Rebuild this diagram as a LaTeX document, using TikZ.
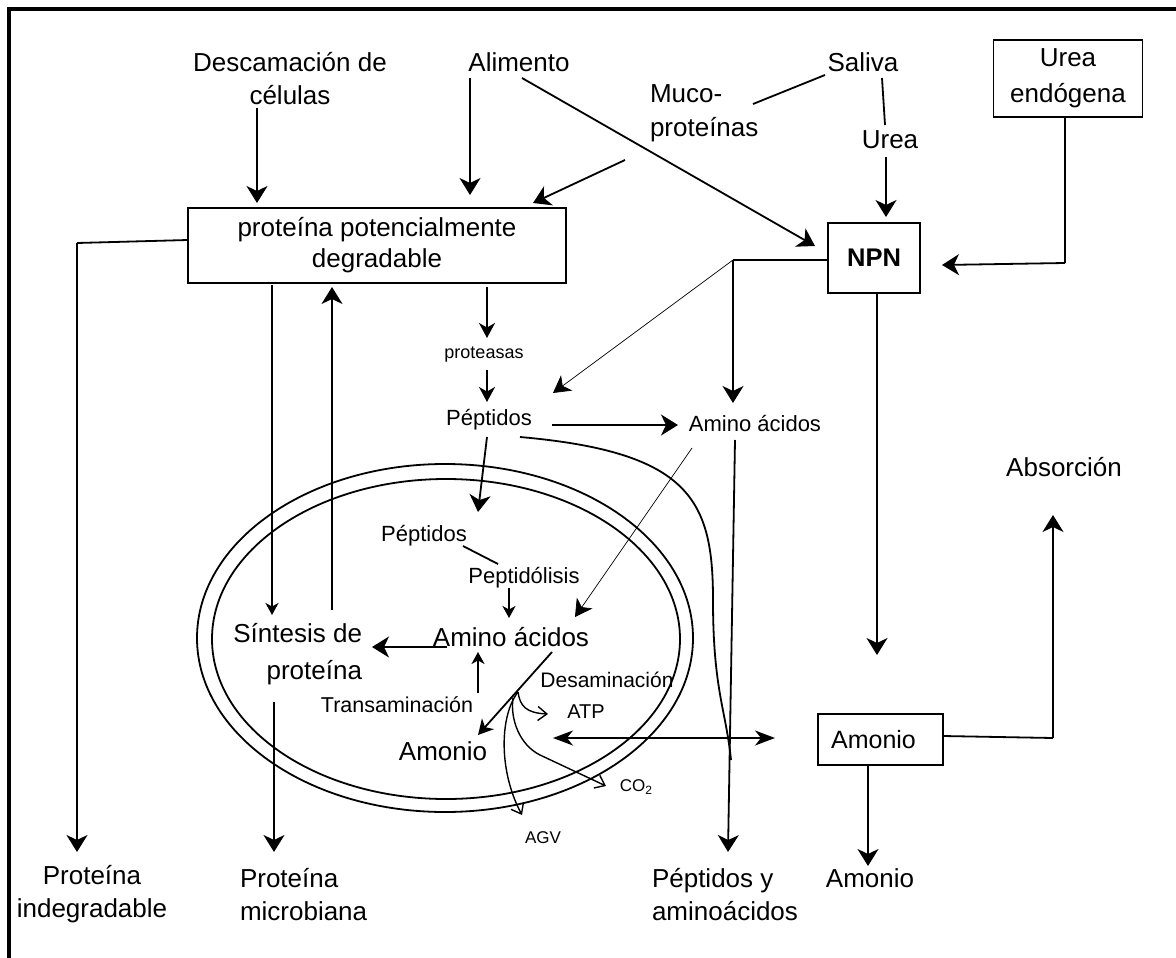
\documentclass[tikz,border=0pt]{standalone}
\usepackage{fontspec}
\setmainfont{Liberation Sans}
\usetikzlibrary{arrows.meta}
\begin{document}
\begin{tikzpicture}[x=1pt,y=-1pt,
  every node/.style={inner sep=0pt, outer sep=0pt},
  big/.style={font=\fontsize{26}{33}\selectfont, align=center},
  mid/.style={font=\fontsize{22}{26}\selectfont, align=center},
  sml/.style={font=\fontsize{18}{22}\selectfont},
  tiny/.style={font=\fontsize{17}{20}\selectfont},
  boxed/.style={draw, line width=1.6pt},
  ln/.style={line width=1.8pt},
  arr/.style={ln, -{Stealth[length=17pt,width=21pt,inset=5pt]}},
  sarr/.style={ln, -{Stealth[length=12pt,width=13pt,inset=3.5pt]}},
  marr/.style={ln, -{Stealth[length=15pt,width=16pt,inset=4.5pt]}},
  tarr/.style={line width=0.7pt, -{Stealth[length=17pt,width=19pt,inset=5pt]}},
  darr/.style={ln, {Stealth[length=20pt,width=15pt,inset=6pt]}-{Stealth[length=20pt,width=15pt,inset=6pt]}},
  oarr/.style={line width=1.4pt, -{Straight Barb[length=9pt,width=14pt]}},
  ring/.style={line width=1.8pt}
]
\useasboundingbox (0,0) rectangle (1176,958);
% frame (left and top edges)
\draw[line width=4pt] (9,958) -- (9,9) -- (1176,9);

% ---- nodes ----
\node[big] (desc) at (290,79) {Descamación de\\células};
\node[big] (alim) at (519,62) {Alimento};
\node[big, align=left, anchor=west, font=\fontsize{26}{34}\selectfont] (muco) at (650,113) {Muco-\\proteínas};
\node[big] (saliva) at (863,62) {Saliva};
\node[big] (urea) at (890,140) {Urea};
\node[big, boxed, minimum width=149pt, minimum height=77pt, font=\fontsize{26}{36}\selectfont] (ureaend) at (1068,78.5) {Urea\\endógena};
\node[big, boxed, minimum width=378pt, minimum height=75pt, font=\fontsize{26}{31}\selectfont] (box) at (377,245.5) {proteína potencialmente\\degradable};
\node[boxed, minimum width=92pt, minimum height=70pt, font=\fontsize{25.5}{28}\selectfont\bfseries] (npn) at (874,258) {NPN};
\node[sml] (prot) at (484,355) {proteasas};
\node[mid] (pep1) at (489,420) {Péptidos};
\node[mid] (aa1) at (755,424) {Amino ácidos};
\node[big] (absor) at (1064,467) {Absorción};
\node[mid] (pep2) at (424,536) {Péptidos};
\node[mid] (peptid) at (524,578) {Peptidólisis};
\node[big] (aa2) at (511,637) {Amino ácidos};
\node[big, align=right, anchor=east, font=\fontsize{26}{37}\selectfont] (sint) at (362,654) {Síntesis de\\proteína};
\node[mid, font=\fontsize{21.5}{26}\selectfont] (transam) at (397,705) {Transaminación};
\node[mid, font=\fontsize{21}{26}\selectfont] (desam) at (607,680) {Desaminación};
\node[font=\fontsize{20}{24}\selectfont] (atp) at (586,712) {ATP};
\node[big] (amon2) at (443,751) {Amonio};
\node[tiny] (co2) at (636,787) {CO\raisebox{-0.35ex}{\fontsize{12}{12}\selectfont 2}};
\node[tiny] (agv) at (543,838) {AGV};
\node[big, boxed, minimum width=125pt, minimum height=51pt, font=\fontsize{25}{30}\selectfont] (amonbox) at (880.5,739.5) {\hspace*{-14pt}Amonio};
\node[big] (pi) at (92,894.5) {Proteína\\indegradable};
\node[big, align=left, anchor=west] (pm) at (240,894.5) {Proteína\\microbiana};
\node[big, align=left, anchor=west] (pya) at (652,894.5) {Péptidos y\\aminoácidos};
\node[big] (amon3) at (870,878) {Amonio};

% ---- ring (cell) ----
\draw[ring] (445,638) ellipse [x radius=248, y radius=174];
\draw[ring] (446,639) ellipse [x radius=234, y radius=160];

% ---- coordinates ----
\coordinate (descA) at (257,108);
\coordinate (alimA) at (470,78);
\coordinate (alimB) at (522,78);
\coordinate (mucoA) at (625,160);
\coordinate (boxTR) at (533,203);
\coordinate (npnIn) at (815,246);
\coordinate (salA) at (825,75);
\coordinate (mucoB) at (753,104);
\coordinate (salB) at (882,78);
\coordinate (ureaA) at (885,125);
\coordinate (ureaB) at (886,157);
\coordinate (ureB) at (1065,117);
\coordinate (ureC) at (1065,263);
\coordinate (npnR) at (942,265);
\coordinate (boxL) at (188,240);
\coordinate (lcorner) at (77,243);
\coordinate (piTop) at (77,852);
\coordinate (npnL) at (828,260);
\coordinate (junc) at (733,260);
\coordinate (aa1Top) at (733,403);
\coordinate (pep1R) at (553,393);
\coordinate (npnB) at (877,293);
\coordinate (npnD) at (877,655);
\coordinate (boxP) at (487,287);
\coordinate (protTop) at (487,338);
\coordinate (protB) at (487,370);
\coordinate (pep1Top) at (487,402);
\coordinate (pep1E) at (552,425);
\coordinate (aa1W) at (678,425);
\coordinate (pep1S) at (487,437);
\coordinate (pep2N) at (478,512);
\coordinate (pep1C) at (520,437);
\coordinate (merge) at (731,760);
\coordinate (aa1SW) at (692,448);
\coordinate (aa2NE) at (575,617);
\coordinate (aa1S) at (735,440);
\coordinate (pyaTop) at (728,852);
\coordinate (pep2E) at (463,546);
\coordinate (peptidW) at (498,564);
\coordinate (peptidS) at (509,588);
\coordinate (aa2N) at (509,618);
\coordinate (aa2W) at (447,647);
\coordinate (sintE) at (372,647);
\coordinate (boxS1) at (272,285);
\coordinate (sintN1) at (272,615);
\coordinate (sintN2) at (332,610);
\coordinate (boxS2) at (332,287);
\coordinate (sintS) at (274,702);
\coordinate (pmTop) at (274,852);
\coordinate (transN) at (478,693);
\coordinate (aa2S) at (478,652);
\coordinate (aa2SE) at (552,652);
\coordinate (amon2N) at (478,735);
\coordinate (br1) at (518,692);
\coordinate (atpW) at (548,714);
\coordinate (br2) at (513,698);
\coordinate (co2W) at (606,786);
\coordinate (agvN) at (522,815);
\coordinate (dL) at (553,738);
\coordinate (dR) at (775,738);
\coordinate (amS) at (868,765);
\coordinate (amonTop) at (868,866);
\coordinate (amE) at (943,736);
\coordinate (amC) at (1053,738);
\coordinate (absS) at (1053,515);

% ---- connectors ----
\draw[arr] (descA) -- (257,203);
\draw[arr] (alimA) -- (470,195);
\draw[arr] (mucoA) -- (boxTR);
\draw[arr] (alimB) -- (npnIn);
\draw[ln] (salA) -- (mucoB);
\draw[ln] (salB) -- (ureaA);
\draw[arr] (ureaB) -- (886,217);
\draw[ln] (ureB) -- (ureC);
\draw[arr] (ureC) -- (npnR);
\draw[ln] (boxL) -- (lcorner);
\draw[arr] (lcorner) -- (piTop);
\draw[ln] (npnL) -- (junc);
\draw[arr] (junc) -- (aa1Top);
\draw[tarr] (junc) -- (pep1R);
\draw[arr] (npnB) -- (npnD);
\draw[marr] (boxP) -- (protTop);
\draw[marr] (protB) -- (pep1Top);
\draw[arr] (pep1E) -- (aa1W);
\draw[arr] (pep1S) -- (pep2N);
\draw[ln] (pep1C) .. controls (690,452) and (713,500) .. (713,600)
                  .. controls (713,690) and (726,710) .. (merge);
\draw[tarr] (aa1SW) -- (aa2NE);
\draw[arr] (aa1S) -- (pyaTop);
\draw[ln] (pep2E) -- (peptidW);
\draw[sarr] (peptidS) -- (aa2N);
\draw[arr] (aa2W) -- (sintE);
\draw[sarr] (boxS1) -- (sintN1);
\draw[arr] (sintN2) -- (boxS2);
\draw[arr] (sintS) -- (pmTop);
\draw[sarr] (transN) -- (aa2S);
\draw[marr] (aa2SE) -- (amon2N);
\draw[oarr] (br1) .. controls (520,706) and (526,713) .. (atpW);
\draw[oarr] (br2) .. controls (510,720) and (520,745) .. (540,755) -- (co2W);
\draw[oarr] (br1) .. controls (500,715) and (498,770) .. (agvN);
\draw[darr] (dL) -- (dR);
\draw[arr] (amS) -- (amonTop);
\draw[ln] (amE) -- (amC);
\draw[arr] (amC) -- (absS);
\end{tikzpicture}
\end{document}
